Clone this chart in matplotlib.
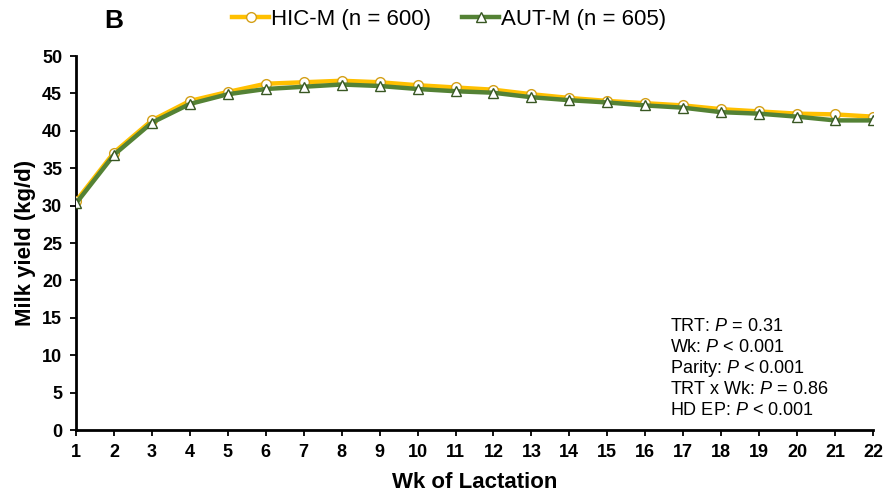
import matplotlib
matplotlib.use("Agg")
import matplotlib.pyplot as plt

plt.rcParams['font.family'] = ['Liberation Sans', 'DejaVu Sans']

weeks = list(range(1, 23))
hic_m = [30.6, 37.1, 41.4, 44.0, 45.2, 46.3, 46.5, 46.7, 46.5, 46.1, 45.8,
         45.5, 44.9, 44.4, 44.0, 43.7, 43.4, 42.9, 42.6, 42.3, 42.2, 41.9]
aut_m = [30.3, 36.8, 41.1, 43.6, 44.9, 45.6, 45.9, 46.2, 46.0, 45.6, 45.3,
         45.1, 44.5, 44.1, 43.8, 43.4, 43.1, 42.5, 42.3, 41.9, 41.4, 41.4]
yticks = list(range(0, 51, 5))
stats_lines = [r"TRT: $\it{P}$ = 0.31", r"Wk: $\it{P}$ < 0.001",
               r"Parity: $\it{P}$ < 0.001", r"TRT x Wk: $\it{P}$ = 0.86",
               r"HD EP: $\it{P}$ < 0.001"]

plt.rcParams['mathtext.fontset'] = 'custom'
plt.rcParams['mathtext.it'] = 'Liberation Sans:italic'
plt.rcParams['mathtext.rm'] = 'Liberation Sans'

fig = plt.figure(figsize=(8.85, 4.92), dpi=100)
ax = fig.add_axes([0.0859, 0.126, 0.9005, 0.760])

ax.plot(weeks, hic_m, color='#FFC000', lw=3.2, marker='o', ms=7,
        mfc='white', mec='#D4A017', mew=1.0, label='HIC-M (n = 600)', zorder=3)
ax.plot(weeks, aut_m, color='#548235', lw=3.2, marker='^', ms=7.5,
        mfc='white', mec='#385723', mew=1.0, label='AUT-M (n = 605)', zorder=4)

ax.set_xlim(1, 22)
ax.set_ylim(0, 50)
ax.set_xticks(weeks)
ax.set_yticks(yticks)
for s in ['top', 'right']:
    ax.spines[s].set_visible(False)
for s in ['left', 'bottom']:
    ax.spines[s].set_linewidth(2)
ax.tick_params(axis='both', direction='out', length=4, width=1.3,
               labelsize=13, pad=6)
for lab in ax.get_xticklabels() + ax.get_yticklabels():
    lab.set_fontweight('bold')
ax.set_xlabel('Wk of Lactation', fontsize=16, fontweight='bold', labelpad=8)
ax.set_ylabel('Milk yield (kg/d)', fontsize=16, fontweight='bold', labelpad=4)

for i, line in enumerate(stats_lines):
    ax.text(0.745, 0.265 - i * 0.0565, line, transform=ax.transAxes,
            fontsize=13, va='baseline', ha='left')

fig.text(0.118, 0.958, 'B', fontsize=19, fontweight='bold', va='center')

fig.legend(loc='center', bbox_to_anchor=(0.507, 0.96), ncol=2, frameon=False,
           fontsize=16, handlelength=1.7, columnspacing=1.4, handletextpad=0.05)

fig.savefig('out.png', dpi=100)
